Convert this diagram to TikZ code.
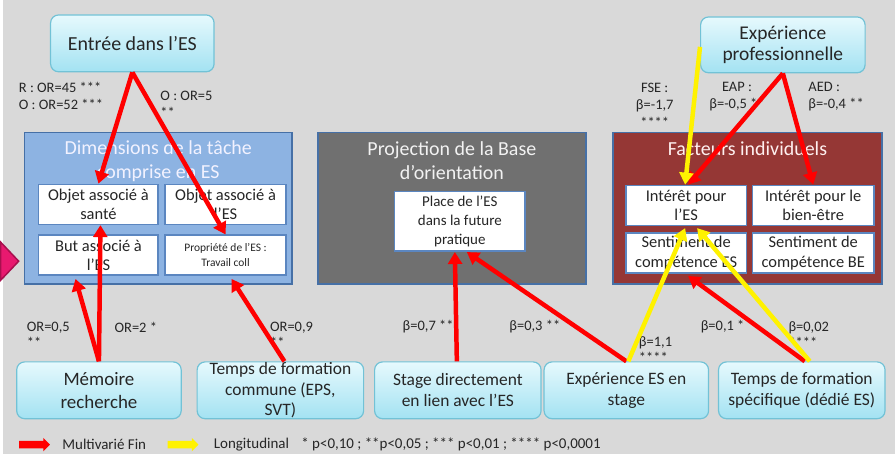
\documentclass[tikz,border=0pt]{standalone}
\usepackage{fontspec}
\setmainfont{Carlito}
\usetikzlibrary{arrows.meta,positioning,shapes.arrows}

\definecolor{bgcol}{HTML}{D9D9D9}
\definecolor{cyantop}{HTML}{E6F9FD}
\definecolor{cyanbot}{HTML}{A3E2F2}
\definecolor{cyanline}{HTML}{72C2D6}
\definecolor{grpline}{HTML}{4670A6}
\definecolor{inline}{HTML}{5B86C0}
\definecolor{dimfill}{HTML}{8DB3E2}
\definecolor{projfill}{HTML}{707070}
\definecolor{factfill}{HTML}{953735}
\definecolor{lblcol}{HTML}{262626}
\definecolor{pinkfill}{HTML}{E8196F}
\definecolor{pinkline}{HTML}{A8104E}

\begin{document}
\begin{tikzpicture}[x=1pt, y=-1pt,
			cyanbox/.style={draw=cyanline, line width=1.2pt, rounded corners=8pt,
				top color=cyantop, bottom color=cyanbot, text=black!85,
				align=center, inner sep=0pt},
			group/.style={draw=grpline, line width=1.5pt, inner sep=0pt},
			grptitle/.style={align=center, inner sep=0pt,
				font=\fontsize{20}{24}\selectfont},
			inbox/.style={draw=inline, line width=1.6pt, fill=white, text=black!85,
				align=center, inner sep=0pt, font=\fontsize{16.5}{19.5}\selectfont},
			lbl/.style={text=lblcol, align=left, anchor=west, inner sep=0pt,
				font=\fontsize{14.5}{16.5}\selectfont},
			redarr/.style={->, red, line width=4.5pt},
			yelarr/.style={->, yellow, line width=4.5pt},
			legarr/.style={single arrow, single arrow head extend=3pt,
				minimum height=31pt, inner xsep=0pt, inner ysep=3.5pt},
			>={Triangle[length=12pt,width=14pt]}]
			\fill[bgcol] (0,0) rectangle (895,455);
			\filldraw[fill=pinkfill, draw=pinkline, line width=1.5pt] (-2,243) -- (16,262) -- (-2,281) -- cycle;
			
			\node[cyanbox, minimum width=164pt, minimum height=57pt,
				font=\fontsize{20}{24}\selectfont] (entree) at (130,43.5) {Entrée dans l’ES};
			\node[cyanbox, minimum width=165pt, minimum height=56pt,
				font=\fontsize{19.5}{22}\selectfont] (expro) at (782.5,45) {Expérience\\professionnelle};
			
			\node[group, fill=dimfill, minimum width=268pt, minimum height=152pt] (dim) at (156,209) {};
			\node[group, fill=projfill, minimum width=269pt, minimum height=152pt] (proj) at (450.5,209) {};
			\node[group, fill=factfill, minimum width=270pt, minimum height=152pt] (fact) at (747,209) {};
			\node[grptitle, text=blue!5!white, below=9pt of dim.north] (dimt) {Dimensions de la tâche\\comprise en ES};
			\node[grptitle, text=white!95!black, below=10pt of proj.north] (projt) {Projection de la Base\\d’orientation};
			\node[grptitle, text=red!6!white, below=10pt of fact.north] (factt) {Facteurs individuels};
			
			\node[inbox, minimum width=120pt, minimum height=40pt] (sante) at (96,205) {Objet associé à\\santé};
			\node[inbox, minimum width=121pt, minimum height=40pt] (objes) at (223.5,205) {Objet associé à\\l’ES};
			\node[inbox, minimum width=120pt, minimum height=40pt] (but) at (96,256) {But associé à\\l’ES};
			\node[inbox, minimum width=121pt, minimum height=40pt,
				font=\fontsize{11.5}{15}\selectfont] (prop) at (223.5,256) {Propriété de l’ES :\\Travail coll};
			\node[inbox, minimum width=131pt, minimum height=60pt,
				font=\fontsize{15}{19}\selectfont] (place) at (458.5,222) {Place de l’ES\\dans la future\\pratique};
			\node[inbox, minimum width=121pt, minimum height=40pt] (interes) at (685.5,206) {Intérêt pour\\l’ES};
			\node[inbox, minimum width=122pt, minimum height=40pt] (interbe) at (813,206) {Intérêt pour le\\bien-être};
			\node[inbox, minimum width=121pt, minimum height=40pt] (sentes) at (685.5,254) {Sentiment de\\compétence ES};
			\node[inbox, minimum width=122pt, minimum height=40pt] (sentbe) at (813,254) {Sentiment de\\compétence BE};
			
			\node[cyanbox, minimum width=165pt, minimum height=57pt,
				font=\fontsize{19}{23}\selectfont] (memoire) at (96.5,391.5) {Mémoire\\recherche};
			\node[cyanbox, minimum width=167pt, minimum height=57pt,
				font=\fontsize{17.5}{20.5}\selectfont] (tcommune) at (278.5,391.5) {Temps de formation\\commune (EPS,\\SVT)};
			\node[cyanbox, minimum width=167pt, minimum height=57pt,
				font=\fontsize{17.5}{21}\selectfont] (stage) at (456.5,391.5) {Stage directement\\en lien avec l’ES};
			\node[cyanbox, minimum width=165pt, minimum height=57pt,
				font=\fontsize{17.5}{21}\selectfont] (expstage) at (625.5,391.5) {Expérience ES en\\stage};
			\node[cyanbox, minimum width=167pt, minimum height=57pt,
				font=\fontsize{17.5}{21}\selectfont] (tspec) at (801.5,391.5) {Temps de formation\\spécifique (dédié ES)};
			
			\node[lbl] (l0) at (16,96) {R : OR=45 ***\\O : OR=52 ***};
			\node[lbl] (l1) at (158,104.5) {O : OR=5\\**};
			\node[lbl, align=center, anchor=center,
				font=\fontsize{14.5}{17.5}\selectfont] (l2) at (654,105.5) {FSE :\\β=-1,7\\****};
			\node[lbl, align=center, anchor=center,
				font=\fontsize{14.5}{17.5}\selectfont] (l3) at (736.5,97) {EAP :\\β=-0,5 **};
			\node[lbl, font=\fontsize{14.5}{17.5}\selectfont] (l4) at (808,97) {AED :\\β=-0,4 **};
			\node[lbl] (l5) at (24,336) {OR=0,5\\**};
			\node[lbl] (l6) at (112,328) {OR=2 *};
			\node[lbl] (l7) at (268,336) {OR=0,9\\**};
			\node[lbl] (l8) at (401,328) {β=0,7 **};
			\node[lbl] (l9) at (508,328) {β=0,3 **};
			\node[lbl] (l10) at (638,350.5) {β=1,1\\****};
			\node[lbl] (l11) at (700,328) {β=0,1 *};
			\node[lbl] (l12) at (788,335.5) {β=0,02\\****};
			
			\path[redarr] 	(entree.south)  edge   (sante.north);
			\path[redarr] 	(entree.south)  edge   (prop.north);
			\path[redarr] 	(memoire.north)  edge   ([xshift=2pt]sante.south);
			\path[redarr] 	(memoire.north)  edge   ([xshift=-23pt,yshift=-3pt]but.south);
			\path[redarr] 	([xshift=4pt]tcommune.north)  edge   ([xshift=6pt,yshift=-3pt]prop.south);
			\path[redarr] 	([xshift=-1pt]stage.north)  edge   ([xshift=-5pt]place.south);
			\path[redarr] 	(expstage.north)  edge   ([xshift=7pt]place.south);
			\path[redarr] 	(expro.south)  edge   ([xshift=2pt]interes.north);
			\path[redarr] 	(expro.south)  edge   (interbe.north);
			\path[redarr] 	([xshift=3pt]tspec.north)  edge   ([xshift=2pt,yshift=-2pt]sentes.south);
			\path[yelarr] 	([yshift=-2pt]expro.west)  edge   ([xshift=-1pt]interes.north);
			\path[yelarr] 	([xshift=2pt]expstage.north)  edge   ([xshift=-1pt,yshift=-2pt]interes.south);
			\path[yelarr] 	([xshift=8pt]tspec.north)  edge   ([xshift=11pt,yshift=-2pt]interes.south);
			
			\node[legarr, fill=red] (legred) at (30,446) {};
			\node[lbl, right=12pt of legred, font=\fontsize{15}{17}\selectfont] (legredt) {Multivarié Fin};
			\node[legarr, fill=yellow] (legyel) at (179,446) {};
			\node[lbl, right=15pt of legyel, font=\fontsize{15}{17}\selectfont] (legyelt) {Longitudinal};
			\node[lbl, right=12pt of legyelt, font=\fontsize{15}{17}\selectfont] (legp) {* p<0,10 ; **p<0,05 ; *** p<0,01 ; **** p<0,0001};
			\end{tikzpicture}
\end{document}
